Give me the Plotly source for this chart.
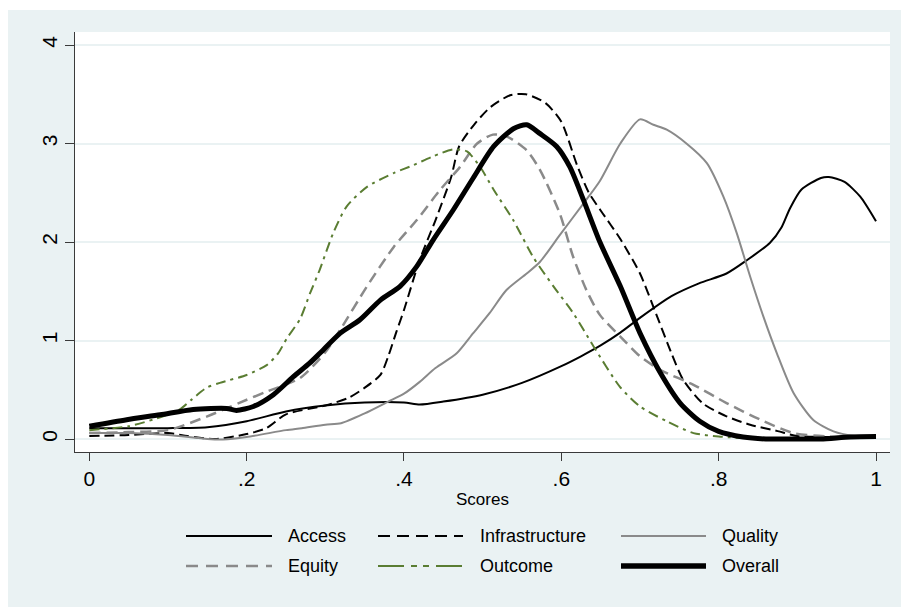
import plotly.graph_objects as go

# ---------------- data ----------------
access_x = [0, 0.05, 0.1, 0.15, 0.2, 0.25, 0.3, 0.35, 0.4, 0.42, 0.45, 0.5, 0.55, 0.6, 0.625, 0.65, 0.675,
            0.7, 0.74, 0.775, 0.81, 0.835, 0.865, 0.88, 0.89, 0.905, 0.93, 0.94, 0.96, 0.98, 1.0]
access_y = [0.11, 0.11, 0.11, 0.12, 0.18, 0.28, 0.34, 0.37, 0.37, 0.35, 0.38, 0.45, 0.57, 0.74, 0.84, 0.95, 1.08,
            1.23, 1.45, 1.58, 1.68, 1.81, 1.99, 2.15, 2.33, 2.53, 2.65, 2.66, 2.61, 2.46, 2.21]

infra_x = [0, 0.05, 0.1, 0.125, 0.16, 0.2, 0.225, 0.25, 0.3, 0.33, 0.35, 0.37, 0.38, 0.39, 0.4, 0.42, 0.44,
           0.46, 0.47, 0.49, 0.51, 0.535, 0.555, 0.58, 0.6, 0.62, 0.635, 0.65, 0.675, 0.7, 0.72, 0.74, 0.755,
           0.78, 0.81, 0.84, 0.875, 0.9, 0.95, 1.0]
infra_y = [0.03, 0.04, 0.06, 0.03, 0.0, 0.05, 0.11, 0.25, 0.34, 0.42, 0.52, 0.65, 0.84, 1.08, 1.31, 1.82, 2.22,
           2.66, 2.97, 3.2, 3.37, 3.49, 3.5, 3.41, 3.22, 2.78, 2.5, 2.32, 2.03, 1.68, 1.28, 0.87, 0.6,
           0.36, 0.23, 0.145, 0.08, 0.03, 0.02, 0.02]

quality_x = [0, 0.05, 0.1, 0.15, 0.17, 0.2, 0.25, 0.27, 0.3, 0.32, 0.35, 0.38, 0.4, 0.42, 0.44, 0.467, 0.488,
             0.509, 0.53, 0.556, 0.573, 0.598, 0.628, 0.649, 0.675, 0.7, 0.717, 0.734, 0.759, 0.785, 0.806,
             0.823, 0.84, 0.857, 0.874, 0.895, 0.92, 0.946, 0.971, 1.0]
quality_y = [0.06, 0.06, 0.04, 0.0, -0.005, 0.02, 0.09, 0.11, 0.145, 0.16, 0.26, 0.38, 0.46, 0.58, 0.72, 0.87, 1.075,
             1.28, 1.51, 1.68, 1.80, 2.07, 2.39, 2.62, 3.0, 3.245, 3.19, 3.14, 3.0, 2.80, 2.46,
             2.09, 1.65, 1.24, 0.87, 0.47, 0.196, 0.077, 0.033, 0.03]

equity_x = [0, 0.05, 0.1, 0.15, 0.19, 0.225, 0.268, 0.3, 0.319, 0.353, 0.387, 0.416, 0.446, 0.471, 0.493, 0.513,
            0.531, 0.556, 0.573, 0.598, 0.615, 0.632, 0.649, 0.675, 0.7, 0.726, 0.768, 0.81, 0.853, 0.895, 0.937, 1.0]
equity_y = [0.06, 0.07, 0.09, 0.23, 0.365, 0.48, 0.62, 0.88, 1.11, 1.55, 1.95, 2.22, 2.53, 2.76, 3.0, 3.09,
            3.07, 2.93, 2.73, 2.29, 1.85, 1.51, 1.26, 1.04, 0.84, 0.70, 0.55, 0.365, 0.196, 0.06, 0.026, 0.02]

outcome_x = [0, 0.05, 0.086, 0.115, 0.13, 0.149, 0.166, 0.2, 0.2255, 0.24, 0.251, 0.268, 0.2806, 0.293, 0.31,
             0.327, 0.353, 0.387, 0.412, 0.437, 0.463, 0.48, 0.497, 0.514, 0.539, 0.564, 0.59, 0.615, 0.641,
             0.6745, 0.7, 0.734, 0.768, 0.8, 0.83]
outcome_y = [0.09, 0.13, 0.21, 0.30, 0.40, 0.52, 0.57, 0.65, 0.75, 0.87, 1.02, 1.22, 1.48, 1.72, 2.09,
             2.36, 2.56, 2.70, 2.78, 2.87, 2.94, 2.92, 2.76, 2.53, 2.22, 1.85, 1.55, 1.28, 0.94,
             0.53, 0.33, 0.18, 0.06, 0.026, 0.01]

overall_x = [0, 0.0475, 0.09, 0.132, 0.1746, 0.187, 0.2085, 0.234, 0.259, 0.28, 0.293, 0.319, 0.344, 0.37, 0.395,
             0.416, 0.437, 0.463, 0.488, 0.514, 0.539, 0.556, 0.573, 0.594, 0.611, 0.628, 0.649, 0.675, 0.7,
             0.726, 0.751, 0.776, 0.80, 0.831, 0.86, 0.9, 0.93, 0.967, 1.0]
overall_y = [0.13, 0.196, 0.246, 0.30, 0.31, 0.29, 0.33, 0.45, 0.63, 0.77, 0.87, 1.075, 1.21, 1.41, 1.55,
             1.75, 2.02, 2.33, 2.65, 2.97, 3.15, 3.19, 3.10, 2.97, 2.76, 2.43, 2.0, 1.55, 1.075,
             0.67, 0.365, 0.18, 0.077, 0.02, 0.0, 0.0, 0.0, 0.02, 0.025]

series_names = ["Access", "Infrastructure", "Quality", "Equity", "Outcome", "Overall"]

x_tick_vals = [0, 0.2, 0.4, 0.6, 0.8, 1.0]
x_tick_text = ["0", ".2", ".4", ".6", ".8", "1"]
y_tick_vals = [0, 1, 2, 3, 4]
y_tick_text = ["0", "1", "2", "3", "4"]
x_title = "Scores"

# ---------------- styles ----------------
BG = "#EAF2F3"
GRAY = "#8A8A8A"
GREEN = "#5A7D32"
FONT = "Liberation Sans, Arial, sans-serif"

styles = {
    "Access": dict(color="black", width=2, dash="solid"),
    "Infrastructure": dict(color="black", width=2, dash="10px,5px"),
    "Quality": dict(color=GRAY, width=2, dash="solid"),
    "Equity": dict(color=GRAY, width=2.5, dash="11px,6px"),
    "Outcome": dict(color=GREEN, width=2, dash="10px,5px,3px,5px"),
    "Overall": dict(color="black", width=5, dash="solid"),
}
legend_dash = {
    "Access": "solid",
    "Infrastructure": "12px,7px",
    "Quality": "solid",
    "Equity": "12px,8px",
    "Outcome": "26px,7px,6px,6px,6px,7px",
    "Overall": "solid",
}

data = {
    "Access": (access_x, access_y),
    "Infrastructure": (infra_x, infra_y),
    "Quality": (quality_x, quality_y),
    "Equity": (equity_x, equity_y),
    "Outcome": (outcome_x, outcome_y),
    "Overall": (overall_x, overall_y),
}

W, H = 901, 607
L, R, T, B = 75, 890, 32, 452   # plot area in pixels

fig = go.Figure()
for name in series_names:
    xs, ys = data[name]
    st = styles[name]
    fig.add_trace(go.Scatter(
        x=xs, y=ys, mode="lines", name=name, showlegend=False,
        line=dict(color=st["color"], width=st["width"], dash=st["dash"],
                  shape="spline", smoothing=0.7),
        hoverinfo="skip",
    ))


def px_to_paper_x(px):
    return (px - L) / (R - L)


def px_to_paper_y(py):
    return (B - py) / (B - T)


shapes = []
annotations = []
# white strips at top and left edges
shapes.append(dict(type="rect", xref="paper", yref="paper",
                   x0=px_to_paper_x(-20), x1=px_to_paper_x(W + 20),
                   y0=px_to_paper_y(10), y1=px_to_paper_y(-20),
                   fillcolor="white", line=dict(width=0), layer="above"))
shapes.append(dict(type="rect", xref="paper", yref="paper",
                   x0=px_to_paper_x(-20), x1=px_to_paper_x(8),
                   y0=px_to_paper_y(H + 20), y1=px_to_paper_y(-20),
                   fillcolor="white", line=dict(width=0), layer="above"))

# manual legend: 3 columns x 2 rows
col_line = [(186, 272), (378, 463), (621, 706)]
col_text = [286, 478, 720]
row_y = [536, 566]
for i, name in enumerate(series_names):
    r, c = divmod(i, 3)
    st = styles[name]
    x0, x1 = col_line[c]
    yy = px_to_paper_y(row_y[r])
    shapes.append(dict(type="line", xref="paper", yref="paper",
                       x0=px_to_paper_x(x0), x1=px_to_paper_x(x1), y0=yy, y1=yy,
                       line=dict(color=st["color"], width=st["width"] + (0.5 if name == "Overall" else 0),
                                 dash=legend_dash[name])))
    annotations.append(dict(xref="paper", yref="paper", x=px_to_paper_x(col_text[c]), y=yy,
                            text=name, showarrow=False, xanchor="left", yanchor="middle",
                            font=dict(family=FONT, size=18, color="black")))

fig.update_layout(
    width=W, height=H,
    margin=dict(l=L, r=W - R, t=T, b=H - B, pad=0),
    paper_bgcolor=BG, plot_bgcolor="white",
    shapes=shapes, annotations=annotations,
    showlegend=False,
    font=dict(family=FONT, color="black"),
    xaxis=dict(range=[-0.0182, 1.0178], tickvals=x_tick_vals, ticktext=x_tick_text,
               showgrid=False, zeroline=False, showline=True, linecolor="#3a3a3a", linewidth=1.2,
               ticks="outside", ticklen=8, tickcolor="#3a3a3a", tickwidth=1.2,
               tickfont=dict(family=FONT, size=21, color="black"),
               title=dict(text=x_title, font=dict(family=FONT, size=17, color="black"), standoff=3)),
    yaxis=dict(range=[-0.132, 4.132], tickvals=y_tick_vals, ticktext=y_tick_text, tickangle=-90,
               showgrid=True, gridcolor=BG, gridwidth=1.5, zeroline=False,
               showline=True, linecolor="#3a3a3a", linewidth=1.2,
               ticks="outside", ticklen=9, tickcolor="#3a3a3a", tickwidth=1.2,
               tickfont=dict(family=FONT, size=21, color="black")),
)

fig.write_html("out.html", config={"displayModeBar": False},
               post_script="document.body.style.margin='0';document.body.style.overflow='hidden';")
